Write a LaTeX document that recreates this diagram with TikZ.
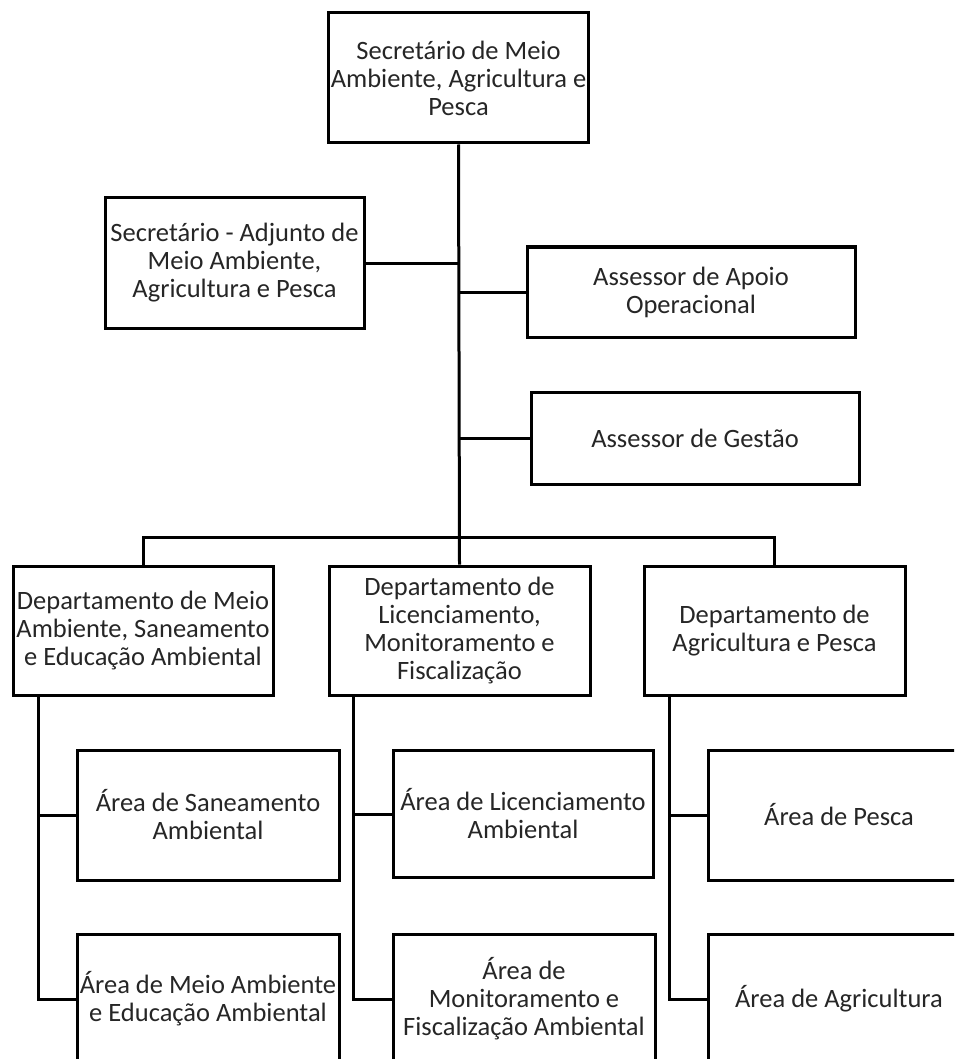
\documentclass[tikz,border=0pt]{standalone}
\usepackage{fontspec}
\setmainfont{Carlito}
\begin{document}
\begin{tikzpicture}[x=1pt,y=-1pt,
  orgbox/.style={draw=black, line width=3pt, fill=white, inner sep=0pt,
    align=center, text=black!85, font=\fontsize{26.5}{28}\selectfont,
    minimum width=#1, minimum height=130pt},
  orgbox/.default=261pt,
  link/.style={draw=black, line width=3pt}]
\clip (0,0) rectangle (954,1059);
\fill[white] (0,0) rectangle (954,1059);

% top level and advisors
\node[orgbox=260pt] (top) at (458.5,78) {Secretário de Meio\\Ambiente, Agricultura e\\Pesca};
\node[orgbox=259pt] (adj) at (234.5,263) {Secretário - Adjunto de\\Meio Ambiente,\\Agricultura e Pesca};
\node[orgbox=328pt, minimum height=90pt] (apoio) at (691,292) {Assessor de Apoio\\Operacional};
\node[orgbox=328pt, minimum height=92pt] (gestao) at (695,438) {Assessor de Gestão};

% departments
\node[orgbox=260pt, minimum height=129pt] (dep1) at (143,630.5) {Departamento de Meio\\Ambiente, Saneamento\\e Educação Ambiental};
\node[orgbox, minimum height=129pt] (dep2) at (459.5,630.5) {Departamento de\\Licenciamento,\\Monitoramento e\\Fiscalização};
\node[orgbox, minimum height=129pt] (dep3) at (774.5,630.5) {Departamento de\\Agricultura e Pesca};

% areas
\node[orgbox=262pt] (a11) at (208,815) {Área de Saneamento\\Ambiental};
\node[orgbox=262pt] (a12) at (208,999) {Área de Meio Ambiente\\e Educação Ambiental};
\node[orgbox=260pt, minimum height=127pt] (a21) at (523,814) {Área de Licenciamento\\Ambiental};
\node[orgbox=262pt] (a22) at (524,999) {Área de\\Monitoramento e\\Fiscalização Ambiental};
\node[orgbox=262pt] (a31) at (839,815) {Área de Pesca};
\node[orgbox=262pt] (a32) at (839,999) {Área de Agricultura};

% trunk and branches
\draw[link] (top.south) -- (dep2.north);
\draw[link] (adj.east) -- (adj.east -| top.south);
\draw[link] (apoio.west) -- (apoio.west -| top.south);
\draw[link] (gestao.west) -- (gestao.west -| top.south);
\draw[link] (dep1.north) -- ++(0,-27) -| (dep3.north);

% department spines
\coordinate (s1) at ([xshift=26.5pt]dep1.south west);
\coordinate (s2) at ([xshift=26pt]dep2.south west);
\coordinate (s3) at ([xshift=27pt]dep3.south west);
\draw[link] (s1) |- (a12.west);
\draw[link] (s1 |- a11.west) -- (a11.west);
\draw[link] (s2) |- (a22.west);
\draw[link] (s2 |- a21.west) -- (a21.west);
\draw[link] (s3) |- (a32.west);
\draw[link] (s3 |- a31.west) -- (a31.west);
\end{tikzpicture}
\end{document}
